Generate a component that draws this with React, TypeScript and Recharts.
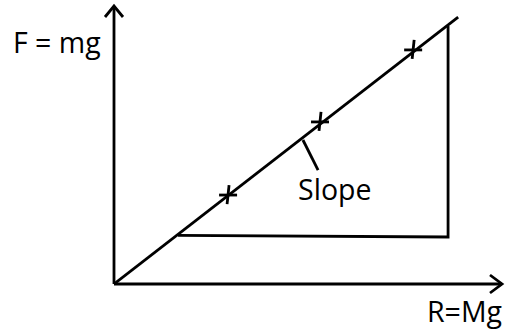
import React from "react";
import { ComposedChart, Line, Scatter, XAxis, YAxis, ReferenceLine, ReferenceDot } from "recharts";

// Fitted straight line through the origin (F against R)
const fitLine = [
  { x: 0, y: 0 },
  { x: 88.7, y: 96.0 },
];

// Measured points (crosses)
const measured = [
  { x: 29.4, y: 32.0 },
  { x: 53.1, y: 58.3 },
  { x: 77.1, y: 84.2 },
];

// Slope triangle: bottom-left, bottom-right, top-right
const slopeTriangle = [
  { x: 16.5, y: 17.5 },
  { x: 86.1, y: 16.9 },
  { x: 86.1, y: 92.8 },
];

// Pointer from the line to the "Slope" label
const pointerStart = { x: 48.7, y: 51.8 };
const pointerEnd = { x: 52.6, y: 41.0 };

const yLabel = "F = mg";
const xLabel = "R=Mg";
const slopeLabel = "Slope";

const INK = "#000";
const SW = 2.8;
const FONT = "'Open Sans', sans-serif";

const Cross = (props: any) => {
  const { cx, cy } = props;
  if (cx == null || cy == null) return null;
  const h = 9;
  return (
    <g stroke={INK} strokeWidth={SW}>
      <line x1={cx - h} y1={cy} x2={cx + h} y2={cy} />
      <line x1={cx + 1} y1={cy - h - 1} x2={cx - 1} y2={cy + h} />
    </g>
  );
};

const UpArrow = (props: any) => {
  const { cx, cy } = props;
  return (
    <g>
      <polyline
        points={`${cx - 9},${cy + 11} ${cx},${cy} ${cx + 9},${cy + 11}`}
        fill="none"
        stroke={INK}
        strokeWidth={SW}
      />
      <text x={cx - 101} y={cy + 47} fontSize={28.5} fontFamily={FONT} fill={INK}>
        {yLabel}
      </text>
    </g>
  );
};

const RightArrow = (props: any) => {
  const { cx, cy } = props;
  return (
    <g>
      <polyline
        points={`${cx - 12},${cy - 9} ${cx},${cy} ${cx - 12},${cy + 9}`}
        fill="none"
        stroke={INK}
        strokeWidth={SW}
      />
      <text x={cx} y={cy + 38} fontSize={28.5} fontFamily={FONT} fill={INK} textAnchor="end">
        {xLabel}
      </text>
    </g>
  );
};

const SlopeText = (props: any) => {
  const { cx, cy } = props;
  return (
    <text x={cx - 20} y={cy + 30} fontSize={28.5} fontFamily={FONT} fill={INK}>
      {slopeLabel}
    </text>
  );
};

export default function App() {
  return (
    <div style={{ position: "absolute", left: 0, top: 0, width: 505, height: 330, background: "#fff" }}>
      <ComposedChart width={505} height={330} margin={{ top: 6, right: 3, bottom: 46, left: 114 }}>
        <XAxis type="number" dataKey="x" domain={[0, 100]} hide allowDataOverflow />
        <YAxis type="number" dataKey="y" domain={[0, 100]} hide allowDataOverflow />
        <ReferenceLine segment={[{ x: 0, y: 0 }, { x: 0, y: 100 }]} stroke={INK} strokeWidth={SW} ifOverflow="visible" />
        <ReferenceLine segment={[{ x: 0, y: 0 }, { x: 100, y: 0 }]} stroke={INK} strokeWidth={SW} ifOverflow="visible" />
        <ReferenceDot x={0} y={100} r={0} ifOverflow="visible" shape={UpArrow} />
        <ReferenceDot x={100} y={0} r={0} ifOverflow="visible" shape={RightArrow} />
        <Line data={fitLine} dataKey="y" type="linear" stroke={INK} strokeWidth={SW} dot={false} isAnimationActive={false} />
        <Line data={slopeTriangle} dataKey="y" type="linear" stroke={INK} strokeWidth={SW} dot={false} isAnimationActive={false} />
        <ReferenceLine segment={[pointerStart, pointerEnd]} stroke={INK} strokeWidth={SW} ifOverflow="visible" />
        <ReferenceDot x={pointerEnd.x} y={pointerEnd.y} r={0} ifOverflow="visible" shape={SlopeText} />
        <Scatter data={measured} dataKey="y" shape={Cross} isAnimationActive={false} />
      </ComposedChart>
    </div>
  );
}
